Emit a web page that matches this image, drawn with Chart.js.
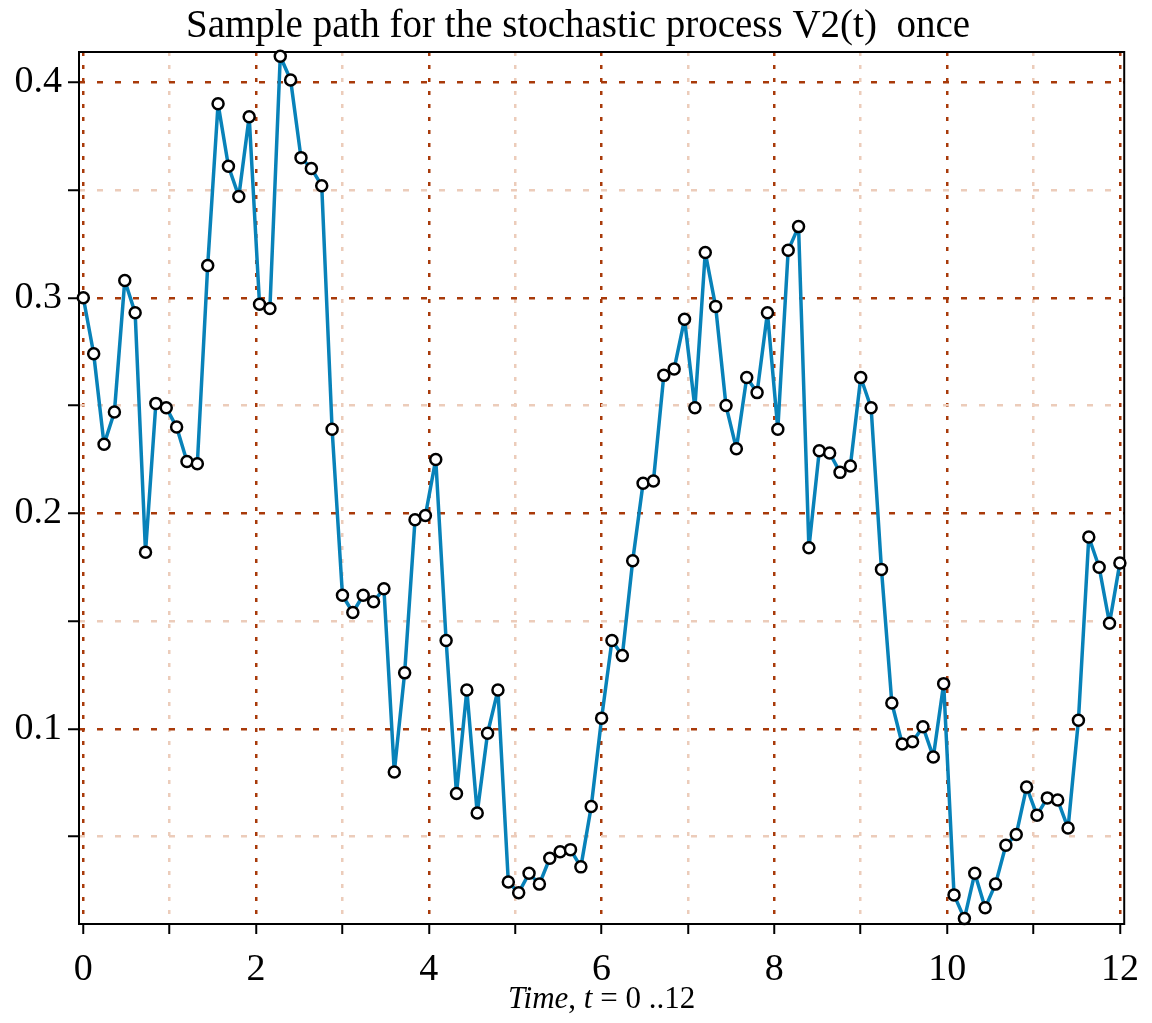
<!DOCTYPE html>
<html>
<head>
<meta charset="utf-8">
<title>Sample path for the stochastic process V2(t)</title>
<script src="https://cdn.jsdelivr.net/npm/chart.js@4/dist/chart.umd.min.js"></script>
<style>
  html, body { margin: 0; padding: 0; background: #fff; }
</style>
</head>
<body>
<canvas id="chart" width="1152" height="1023"></canvas>
<script>
// sample times, step 0.12
const times = [
  0, 0.12, 0.24, 0.36, 0.48, 0.6, 0.72, 0.84, 0.96, 1.08,
  1.2, 1.32, 1.44, 1.56, 1.68, 1.8, 1.92, 2.04, 2.16, 2.28,
  2.4, 2.52, 2.64, 2.76, 2.88, 3, 3.12, 3.24, 3.36, 3.48,
  3.6, 3.72, 3.84, 3.96, 4.08, 4.2, 4.32, 4.44, 4.56, 4.68,
  4.8, 4.92, 5.04, 5.16, 5.28, 5.4, 5.52, 5.64, 5.76, 5.88,
  6, 6.12, 6.24, 6.36, 6.48, 6.6, 6.72, 6.84, 6.96, 7.08,
  7.2, 7.32, 7.44, 7.56, 7.68, 7.8, 7.92, 8.04, 8.16, 8.28,
  8.4, 8.52, 8.64, 8.76, 8.88, 9, 9.12, 9.24, 9.36, 9.48,
  9.6, 9.72, 9.84, 9.96, 10.08, 10.2, 10.32, 10.44, 10.56, 10.68,
  10.8, 10.92, 11.04, 11.16, 11.28, 11.4, 11.52, 11.64, 11.76, 11.88,
  12
];

// V2(t)
const v2 = [
  0.300, 0.274, 0.232, 0.247, 0.308, 0.293, 0.182, 0.251, 0.249, 0.240,
  0.224, 0.223, 0.315, 0.390, 0.361, 0.347, 0.384, 0.297, 0.295, 0.412,
  0.401, 0.365, 0.360, 0.352, 0.239, 0.162, 0.154, 0.162, 0.159, 0.165,
  0.080, 0.126, 0.197, 0.199, 0.225, 0.141, 0.070, 0.118, 0.061, 0.098,
  0.118, 0.029, 0.024, 0.033, 0.028, 0.040, 0.043, 0.044, 0.036, 0.064,
  0.105, 0.141, 0.134, 0.178, 0.214, 0.215, 0.264, 0.267, 0.290, 0.249,
  0.321, 0.296, 0.250, 0.230, 0.263, 0.256, 0.293, 0.239, 0.322, 0.333,
  0.184, 0.229, 0.228, 0.219, 0.222, 0.263, 0.249, 0.174, 0.112, 0.093,
  0.094, 0.101, 0.087, 0.121, 0.023, 0.012, 0.033, 0.017, 0.028, 0.046,
  0.051, 0.073, 0.060, 0.068, 0.067, 0.054, 0.104, 0.189, 0.175, 0.149,
  0.177
];

const xTickValues = [0, 1, 2, 3, 4, 5, 6, 7, 8, 9, 10, 11, 12];
const yTickValues = [0.05, 0.1, 0.15, 0.2, 0.25, 0.3, 0.35, 0.4];
const titleText = 'Sample path for the stochastic process V2(t)  once';

const brown = 'rgb(168,58,10)';
const peach = 'rgb(236,204,186)';
const lineBlue = 'rgb(8,130,185)';
const serif = 'Liberation Serif';

const isMajorX = v => v % 2 === 0;
const isMajorY = v => Math.abs(v * 10 - Math.round(v * 10)) < 1e-6;

const framePlugin = {
  id: 'frame',
  beforeDatasetsDraw(chart) {
    const {ctx, chartArea: a} = chart;
    ctx.save();
    ctx.strokeStyle = '#000';
    ctx.lineWidth = 2;
    ctx.strokeRect(a.left, a.top, a.right - a.left, a.bottom - a.top);
    ctx.restore();
  }
};

// title and x axis title ("Time" and "t" in italics)
const xTitleParts = [['Time', true], [', ', false], ['t', true], [' = 0 ..12', false]];
const textPlugin = {
  id: 'texts',
  afterDraw(chart) {
    const {ctx, chartArea: a} = chart;
    ctx.save();
    ctx.fillStyle = '#000';
    ctx.textAlign = 'center';
    ctx.textBaseline = 'middle';
    ctx.font = '39px "' + serif + '"';
    ctx.fillText(titleText, 578, 27);

    ctx.textAlign = 'left';
    ctx.textBaseline = 'alphabetic';
    let total = 0;
    const widths = xTitleParts.map(([s, it]) => {
      ctx.font = (it ? 'italic ' : '') + '31px "' + serif + '"';
      const w = ctx.measureText(s).width;
      total += w;
      return w;
    });
    let x = (a.left + a.right) / 2 - total / 2;
    xTitleParts.forEach(([s, it], i) => {
      ctx.font = (it ? 'italic ' : '') + '31px "' + serif + '"';
      ctx.fillText(s, x, 1008);
      x += widths[i];
    });
    ctx.restore();
  }
};

new Chart(document.getElementById('chart'), {
  type: 'line',
  data: {
    datasets: [{
      data: times.map((t, i) => ({x: t, y: v2[i]})),
      borderColor: lineBlue,
      borderWidth: 3.5,
      borderJoinStyle: 'round',
      tension: 0,
      pointRadius: 5.5,
      pointBorderWidth: 2.5,
      pointBorderColor: '#000',
      pointBackgroundColor: '#fff',
      clip: false
    }]
  },
  options: {
    responsive: false,
    animation: false,
    devicePixelRatio: 1,
    layout: {padding: {left: 0, right: 27, top: 52, bottom: 0}},
    plugins: {
      legend: {display: false},
      tooltip: {enabled: false},
      title: {display: false}
    },
    scales: {
      x: {
        type: 'linear',
        min: -0.05,
        max: 12.05,
        afterBuildTicks: s => { s.ticks = xTickValues.map(v => ({value: v})); },
        afterFit: s => { s.height = 99; },
        ticks: {
          autoSkip: false,
          maxRotation: 0,
          color: '#000',
          font: {family: serif, size: 38},
          padding: 13,
          callback: v => isMajorX(v) ? String(v) : ''
        },
        grid: {
          color: c => (c.tick && !isMajorX(c.tick.value)) ? peach : brown,
          lineWidth: 2.5,
          tickColor: '#000',
          tickLength: 10,
          tickWidth: 2
        },
        border: {display: false, dash: [4, 9]}
      },
      y: {
        type: 'linear',
        min: 0.0095,
        max: 0.414,
        afterBuildTicks: s => { s.ticks = yTickValues.map(v => ({value: v})); },
        afterFit: s => { s.width = 79; },
        ticks: {
          autoSkip: false,
          color: '#000',
          font: {family: serif, size: 38},
          padding: 6,
          callback: v => isMajorY(v) ? v.toFixed(1) : ''
        },
        grid: {
          color: c => (c.tick && !isMajorY(c.tick.value)) ? peach : brown,
          lineWidth: 2.5,
          tickColor: '#000',
          tickLength: 11,
          tickWidth: 2
        },
        border: {display: false, dash: [6, 12]}
      }
    }
  },
  plugins: [framePlugin, textPlugin]
});
</script>
</body>
</html>
